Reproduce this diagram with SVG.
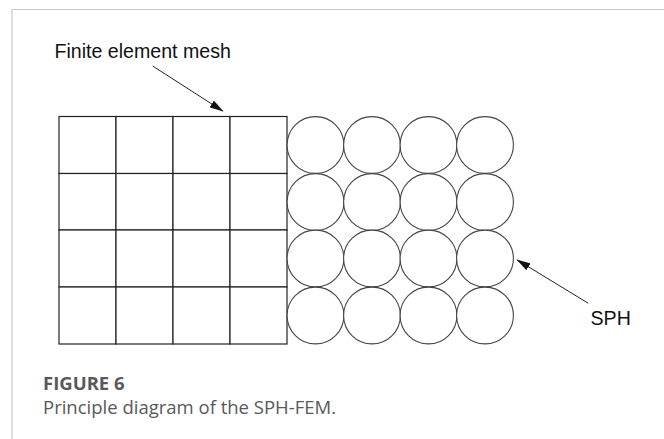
<svg xmlns="http://www.w3.org/2000/svg" width="664" height="439" viewBox="0 0 664 439">
<style>
.frame{stroke:#c8c8c8;stroke-width:1.2;fill:none}
.cell{fill:#fff;stroke:#222;stroke-width:1.2}
.p{fill:#fff;stroke:#444;stroke-width:1.1}
.lbl{font-family:"Liberation Sans",Arial,sans-serif;font-size:19.6px;fill:#111}
.lead{stroke:#222;stroke-width:1;fill:none;marker-end:url(#ah)}
.cap1{font-family:"Open Sans","Noto Sans",sans-serif;font-weight:bold;font-size:18.5px;fill:#58595b}
.cap2{font-family:"Open Sans","Noto Sans",sans-serif;font-size:18.5px;fill:#58595b}
</style>
<defs>
<marker id="ah" markerWidth="14" markerHeight="8" refX="13" refY="4" orient="auto" markerUnits="userSpaceOnUse">
<path d="M0,0 L14,4 L0,8 Z" fill="#111"/>
</marker>
</defs>
<rect width="664" height="439" fill="#fff"/>
<path class="frame" d="M12,439 V9.5 H664"/>
<g id="fem">
<rect class="cell" x="59" y="116.5" width="57" height="57"/>
<rect class="cell" x="116" y="116.5" width="57" height="57"/>
<rect class="cell" x="173" y="116.5" width="57" height="57"/>
<rect class="cell" x="230" y="116.5" width="57" height="57"/>
<rect class="cell" x="59" y="173.5" width="57" height="56.5"/>
<rect class="cell" x="116" y="173.5" width="57" height="56.5"/>
<rect class="cell" x="173" y="173.5" width="57" height="56.5"/>
<rect class="cell" x="230" y="173.5" width="57" height="56.5"/>
<rect class="cell" x="59" y="230" width="57" height="57"/>
<rect class="cell" x="116" y="230" width="57" height="57"/>
<rect class="cell" x="173" y="230" width="57" height="57"/>
<rect class="cell" x="230" y="230" width="57" height="57"/>
<rect class="cell" x="59" y="287" width="57" height="57"/>
<rect class="cell" x="116" y="287" width="57" height="57"/>
<rect class="cell" x="173" y="287" width="57" height="57"/>
<rect class="cell" x="230" y="287" width="57" height="57"/>
</g>
<g id="sph">
<circle class="p" cx="315.5" cy="145" r="28.4"/>
<circle class="p" cx="372" cy="145" r="28.4"/>
<circle class="p" cx="428.5" cy="145" r="28.4"/>
<circle class="p" cx="485" cy="145" r="28.4"/>
<circle class="p" cx="315.5" cy="202" r="28.4"/>
<circle class="p" cx="372" cy="202" r="28.4"/>
<circle class="p" cx="428.5" cy="202" r="28.4"/>
<circle class="p" cx="485" cy="202" r="28.4"/>
<circle class="p" cx="315.5" cy="258.5" r="28.4"/>
<circle class="p" cx="372" cy="258.5" r="28.4"/>
<circle class="p" cx="428.5" cy="258.5" r="28.4"/>
<circle class="p" cx="485" cy="258.5" r="28.4"/>
<circle class="p" cx="315.5" cy="315.5" r="28.4"/>
<circle class="p" cx="372" cy="315.5" r="28.4"/>
<circle class="p" cx="428.5" cy="315.5" r="28.4"/>
<circle class="p" cx="485" cy="315.5" r="28.4"/>
</g>
<g id="label-fem">
<text class="lbl" x="54.5" y="57.5">Finite element mesh</text>
</g>
<g id="label-sph">
<text class="lbl" x="590.5" y="325">SPH</text>
</g>
<g id="connectors">
<line class="lead" x1="152.7" y1="66" x2="222.7" y2="111"/>
<line class="lead" x1="588.3" y1="303.3" x2="517.3" y2="260"/>
</g>
<g id="caption">
<text class="cap1" x="43" y="389.5">FIGURE 6</text>
<text class="cap2" x="43" y="413.5">Principle diagram of the SPH-FEM.</text>
</g>
</svg>
